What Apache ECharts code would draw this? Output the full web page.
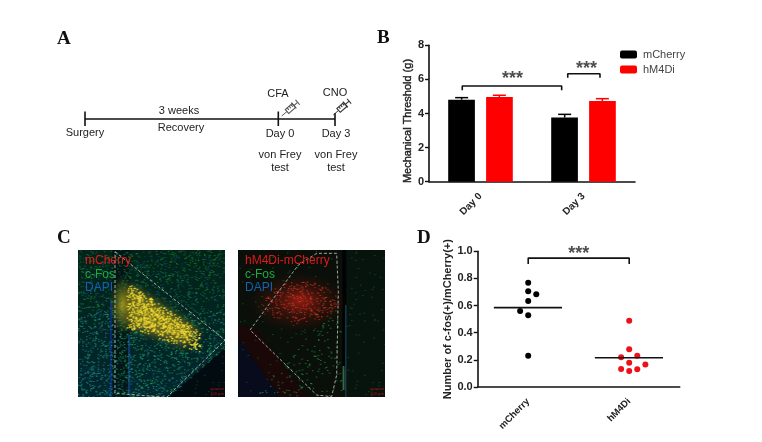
<!DOCTYPE html>
<html><head><meta charset="utf-8">
<style>html,body{margin:0;padding:0;background:#fff}#c{width:762px;height:442px}</style>
<script src="https://cdn.jsdelivr.net/npm/echarts@6/dist/echarts.min.js"></script>
</head><body><div id="c"></div>
<script>
// Panel B data
const days = ['Day 0', 'Day 3'];
const mCherryMean = [4.81, 3.76];
const hM4DiMean = [4.97, 4.73];
const mCherryTop = [4.93, 3.95];
const hM4DiTop = [5.07, 4.87];
const mCherryBarX = [0.317, 1.317];
const hM4DiBarX = [0.683, 1.683];
const bracketLong = [[0.323, 5.37], [0.323, 5.61], [1.288, 5.61], [1.288, 5.37]];
const bracketShort = [[1.347, 6.1], [1.347, 6.33], [1.66, 6.33], [1.66, 6.1]];
const starsB = [[0.81, 6.0], [1.53, 6.6]];
// Panel D data
const groups = ['mCherry', 'hM4Di'];
const mCherryDots = [[0.5, 0.769], [0.5, 0.705], [0.58, 0.683], [0.5, 0.634], [0.42, 0.56], [0.5, 0.528], [0.5, 0.231]];
const hM4DiDots = [[1.5, 0.489], [1.5, 0.278], [1.58, 0.231], [1.42, 0.219], [1.5, 0.179], [1.66, 0.165], [1.42, 0.133], [1.58, 0.13], [1.5, 0.118]];
const mCherryMeanLine = [[0.16, 0.585], [0.835, 0.585]];
const hM4DiMeanLine = [[1.16, 0.215], [1.835, 0.215]];
const bracketD = [[0.5, 0.906], [0.5, 0.95], [1.5, 0.95], [1.5, 0.906]];
const starsD = [[1.0, 0.98]];
// Panel A labels
const timelineLabels = [
  ['Surgery', 85, 133], ['3 weeks', 179, 111], ['Recovery', 181, 128], ['CFA', 278, 94], ['CNO', 335, 93],
  ['Day 0', 280, 134], ['Day 3', 336, 134], ['von Frey', 280, 155], ['test', 280, 168], ['von Frey', 336, 155], ['test', 336, 168]
];

const FONT = '"Liberation Sans", Arial, sans-serif';
const SERIF = '"Liberation Serif", serif';
const INK = '#222';

function grain(i, s) { const v = Math.sin(i * s) * 43758.5453; return v - Math.floor(v); }
// Stand-in texture for the two micrographs (a photograph, not chart data).
function micrograph(kind) {
  const cv = document.createElement('canvas');
  cv.width = 147; cv.height = 147;
  const g = cv.getContext('2d');
  const glow = (x, y, rx, ry, rot, col0, col1) => {
    g.save(); g.translate(x, y); g.rotate(rot); g.scale(rx, ry);
    const r = g.createRadialGradient(0, 0, 0, 0, 0, 1);
    r.addColorStop(0, col0); r.addColorStop(1, col1);
    g.fillStyle = r; g.beginPath(); g.arc(0, 0, 1, 0, 6.3); g.fill(); g.restore();
  };
  if (kind === 1) {
    g.fillStyle = '#051f1d'; g.fillRect(0, 0, 147, 147);
    const l = g.createLinearGradient(0, 0, 0, 147);
    l.addColorStop(0, 'rgba(0,40,15,0.5)'); l.addColorStop(1, 'rgba(0,45,65,0.5)');
    g.fillStyle = l; g.fillRect(0, 0, 147, 147);
    g.fillStyle = 'rgba(0,14,14,0.6)'; g.fillRect(34, 0, 18, 147);
    g.fillStyle = '#0b2f8f'; g.fillRect(32, 50, 1.5, 97);
    g.fillStyle = '#1a4a90'; g.fillRect(50, 85, 1.5, 60);
    g.fillStyle = '#020b10';
    g.beginPath(); g.moveTo(147, 98); g.lineTo(147, 147); g.lineTo(90, 147); g.fill();
    g.filter = 'blur(5px)';
    g.fillStyle = 'rgba(150,135,25,0.75)';
    g.beginPath(); g.moveTo(50, 34); g.lineTo(120, 80); g.lineTo(108, 96); g.lineTo(50, 76); g.fill();
    g.filter = 'none';
    glow(44, 55, 13, 30, 0, 'rgba(185,165,30,0.9)', 'rgba(120,120,20,0)');
  } else {
    g.fillStyle = '#0a0f09'; g.fillRect(0, 0, 147, 147);
    g.fillStyle = '#07140e'; g.fillRect(108, 0, 39, 147);
    g.fillStyle = 'rgba(30,5,8,0.8)';
    g.beginPath(); g.moveTo(0, 75); g.lineTo(18, 80); g.lineTo(70, 147); g.lineTo(0, 147); g.fill();
    g.fillStyle = 'rgba(5,12,30,0.9)';
    g.beginPath(); g.moveTo(0, 88); g.lineTo(42, 147); g.lineTo(0, 147); g.fill();
    g.fillStyle = '#010203'; g.fillRect(104, 0, 4, 120);
    g.fillStyle = '#1d4c66'; g.fillRect(107, 55, 1, 92);
    g.fillStyle = '#3c7a4c'; g.fillRect(104.5, 116, 1.6, 24);
    glow(60, 52, 50, 30, 0, 'rgba(135,30,20,0.7)', 'rgba(90,20,10,0)');
    glow(62, 50, 26, 16, 0, 'rgba(190,30,20,0.55)', 'rgba(120,20,10,0)');
  }
  for (let i = 1; i < 7500; i++) {
    const x = grain(i, 12.9898) * 147, y = grain(i, 78.233) * 147, k = grain(i, 37.719);
    let col = null, s = 1;
    if (kind === 1) {
      const upper = 33 + (x - 50) * 0.66, lower = 78 + (x - 50) * 0.34;
      const edge = Math.min(y - upper, lower - y, x - 48, 122 - x);
      const inCorner = (y - 98) * 57 - (147 - x) * 49 > 0;
      if (edge > 0 && k < 0.35 + edge * 0.06) { col = k < 0.55 ? '#f6dc34' : '#d4bf2c'; s = 1.4; }
      else if (inCorner) { if (k < 0.04) col = '#14503c'; }
      else if (y > 60 && k < 0.30) col = x < 32 ? '#22a088' : '#20aa62';
      else if (y <= 60 && k < 0.2) col = '#1e8a42';
      else if (k > 0.88) col = '#184e78';
    } else {
      const dx = (x - 62) / 38, dy = (y - 52) / 21, r = dx * dx + dy * dy;
      if (r < 1 && k < 0.32) { col = k < 0.22 ? '#ee2a22' : '#c8552a'; }
      else if (x < 103 && y > 22 && (x + y * 0.75) > 52 && (x - 30) > (y - 130) * -0.9 && k < 0.1) col = '#22a04c';
      else if (x > 108 && k < 0.03) col = '#176030';
      else if (x < 103 && k < 0.02) col = '#166c2c';
    }
    if (col) { g.fillStyle = col; g.fillRect(x, y, s, s); }
  }
  const out = document.createElement('canvas');
  out.width = 147; out.height = 147;
  const o = out.getContext('2d');
  o.filter = 'blur(0.7px)';
  o.drawImage(cv, 0, 0);
  return out;
}

function syringe(x, y, rot, col) {
  const ln = (a, b, c, d, w) => ({ type: 'line', shape: { x1: a, y1: b, x2: c, y2: d }, style: { stroke: col, lineWidth: w || 1.1 } });
  return {
    type: 'group', x, y, rotation: rot,
    children: [
      ln(0, 0, 7, 0, 0.9),
      { type: 'rect', shape: { x: 7, y: -2.6, width: 9, height: 5.2 }, style: { fill: 'none', stroke: col, lineWidth: 1.1 } },
      ln(9.5, -2.6, 9.5, 0), ln(12, -2.6, 12, 0), ln(14.5, -2.6, 14.5, 0),
      ln(16, -3.8, 16, 3.8), ln(16, 0, 21, 0), ln(21, -3.2, 21, 3.2)
    ]
  };
}

function dashed(points) {
  return { type: 'polygon', shape: { points }, style: { fill: 'none', stroke: 'rgba(215,215,205,0.75)', lineWidth: 1, lineDash: [3, 2] } };
}
function panelText(x, y, t, col) {
  return { type: 'text', x, y, style: { text: t, fill: col, font: '12px ' + FONT, textVerticalAlign: 'middle' } };
}
function z2c(zx, zy) { return [50 + zx / 3, 225 + zy / 3]; }

const graphicEls = [];
[['A', 57, 39], ['B', 377, 38], ['C', 57, 238], ['D', 417, 238]].forEach(([t, x, y]) => {
  graphicEls.push({ type: 'text', x, y, style: { text: t, fill: '#111', font: 'bold 19px ' + SERIF, textVerticalAlign: 'middle' } });
});
graphicEls.push({ type: 'line', shape: { x1: 85, y1: 119, x2: 335, y2: 119 }, style: { stroke: '#111', lineWidth: 1.6 } });
[[85, 111.5], [278.3, 111.5], [335, 113]].forEach(([x, y]) => {
  graphicEls.push({ type: 'line', shape: { x1: x, y1: y, x2: x, y2: 126 }, style: { stroke: '#111', lineWidth: 1.6 } });
});
timelineLabels.forEach(([t, x, y]) => {
  graphicEls.push({ type: 'text', x, y, style: { text: t, fill: INK, font: '11px ' + FONT, textAlign: 'center', textVerticalAlign: 'middle' } });
});
graphicEls.push(syringe(281.7, 116, 0.71, '#555'), syringe(333.3, 115, 0.72, '#333'));

graphicEls.push({ type: 'image', style: { image: micrograph(1), x: 78.3, y: 250, width: 147, height: 147 } });
graphicEls.push({ type: 'image', style: { image: micrograph(2), x: 238.3, y: 250, width: 147, height: 147 } });
graphicEls.push(dashed([z2c(195, 80), z2c(525, 345), z2c(350, 517), z2c(195, 505)]));
graphicEls.push(dashed([z2c(600, 315), z2c(745, 120), z2c(800, 85), z2c(860, 85), z2c(865, 200), z2c(860, 450), z2c(845, 515), z2c(800, 510)]));
graphicEls.push(panelText(85, 261, 'mCherry', '#e01a1a'), panelText(85, 275, 'c-Fos', '#1fa84a'), panelText(85, 288, 'DAPI', '#1560b0'));
graphicEls.push(panelText(245, 261, 'hM4Di-mCherry', '#e01a1a'), panelText(245, 275, 'c-Fos', '#1fa84a'), panelText(245, 288, 'DAPI', '#1560b0'));
[[210, 224], [370, 384]].forEach(([a, b]) => {
  graphicEls.push({ type: 'line', shape: { x1: a, y1: 389, x2: b, y2: 389 }, style: { stroke: '#c01010', lineWidth: 0.7 } });
  graphicEls.push({ type: 'text', x: (a + b) / 2, y: 394, style: { text: '100 μm', fill: '#c01010', font: '4px ' + FONT, textAlign: 'center', textVerticalAlign: 'middle' } });
});

const axisLine = { lineStyle: { color: '#111', width: 1.6 } };
const axisTick = { length: 4, lineStyle: { color: '#111', width: 1.4 } };
const tickLabel = { color: INK, fontFamily: FONT, fontWeight: 'bold', fontSize: 11, margin: 5 };
const xCat = (data, grid, size, margin) => ({
  type: 'category', gridIndex: grid, data, axisLine, axisTick: { ...axisTick, alignWithLabel: true },
  axisLabel: { color: INK, fontFamily: FONT, fontWeight: 'bold', fontSize: size, rotate: 45, margin, interval: 0 }
});
const xHidden = grid => ({ type: 'value', gridIndex: grid, min: 0, max: 2, show: false });
const yVal = (grid, max, interval, name, gap, fmt, nameStyle) => ({
  type: 'value', gridIndex: grid, min: 0, max, interval, name, nameLocation: 'middle', nameGap: gap,
  nameTextStyle: { color: INK, fontFamily: FONT, ...nameStyle },
  axisLine: { show: true, ...axisLine }, axisTick: { show: true, ...axisTick },
  axisLabel: { ...tickLabel, formatter: fmt }, splitLine: { show: false }
});
const pathLine = (data, x, y) => ({
  type: 'line', xAxisIndex: x, yAxisIndex: y, data, showSymbol: false, symbol: 'none', silent: true,
  lineStyle: { color: '#111', width: 1.6 }, animation: false
});
const stars = (data, x, y) => ({
  type: 'scatter', xAxisIndex: x, yAxisIndex: y, data, symbolSize: 0, silent: true, animation: false,
  label: { show: true, formatter: '***', position: 'inside', color: '#222', fontFamily: FONT, fontWeight: 'bold', fontSize: 18 }
});
const errBars = (xs, means, tops, color) => ({
  type: 'custom', xAxisIndex: 1, yAxisIndex: 0, silent: true, animation: false,
  data: xs.map((x, i) => [x, means[i], tops[i]]),
  renderItem(params, api) {
    const a = api.coord([api.value(0), api.value(1)]);
    const b = api.coord([api.value(0), api.value(2)]);
    const st = { stroke: color, lineWidth: 1.5, fill: 'none' };
    return { type: 'group', children: [
      { type: 'line', shape: { x1: a[0], y1: a[1], x2: b[0], y2: b[1] }, style: st },
      { type: 'line', shape: { x1: b[0] - 6.5, y1: b[1], x2: b[0] + 6.5, y2: b[1] }, style: st }
    ] };
  }
});
const bar = (name, data, color) => ({
  type: 'bar', name, data, xAxisIndex: 0, yAxisIndex: 0, barWidth: 26.7, barGap: '42%',
  itemStyle: { color }, animation: false
});
const dots = (data, color) => ({
  type: 'scatter', data, xAxisIndex: 3, yAxisIndex: 1, symbolSize: 6, itemStyle: { color, opacity: 1 }, animation: false
});

const chart = echarts.init(document.getElementById('c'), null, { renderer: 'canvas' });
chart.setOption({
  backgroundColor: '#fff',
  animation: false,
  textStyle: { fontFamily: FONT },
  grid: [
    { left: 429, top: 45.3, width: 206, height: 136.4 },
    { left: 477.7, top: 251.3, width: 202, height: 135.7 }
  ],
  legend: {
    data: ['mCherry', 'hM4Di'], left: 620, top: 49, orient: 'vertical', itemWidth: 17, itemHeight: 8, itemGap: 4,
    icon: 'roundRect', textStyle: { color: '#444', fontSize: 11, fontFamily: FONT, padding: [0, 0, 0, 1] }, selectedMode: false, padding: 0
  },
  xAxis: [xCat(days, 0, 10, 13), xHidden(0), xCat(groups, 1, 9.5, 13), xHidden(1)],
  yAxis: [
    yVal(0, 8, 2, 'Mechanical Threshold (g)', 15, v => String(v),
      { fontSize: 11, fontWeight: 'normal', textBorderColor: INK, textBorderWidth: 0.4, padding: [0, 15, 0, 0] }),
    yVal(1, 1, 0.2, 'Number of c-fos(+)/mCherry(+)', 23, v => v.toFixed(1), { fontSize: 11, fontWeight: 'bold' })
  ],
  series: [
    bar('mCherry', mCherryMean, '#000'),
    bar('hM4Di', hM4DiMean, '#fe0000'),
    errBars(mCherryBarX, mCherryMean, mCherryTop, '#000'),
    errBars(hM4DiBarX, hM4DiMean, hM4DiTop, '#fe0000'),
    pathLine(bracketLong, 1, 0),
    pathLine(bracketShort, 1, 0),
    stars(starsB, 1, 0),
    dots(mCherryDots, '#000'),
    dots(hM4DiDots, '#ee1018'),
    pathLine(mCherryMeanLine, 3, 1),
    pathLine(hM4DiMeanLine, 3, 1),
    pathLine(bracketD, 3, 1),
    stars(starsD, 3, 1)
  ],
  graphic: { elements: graphicEls }
});
</script></body></html>
